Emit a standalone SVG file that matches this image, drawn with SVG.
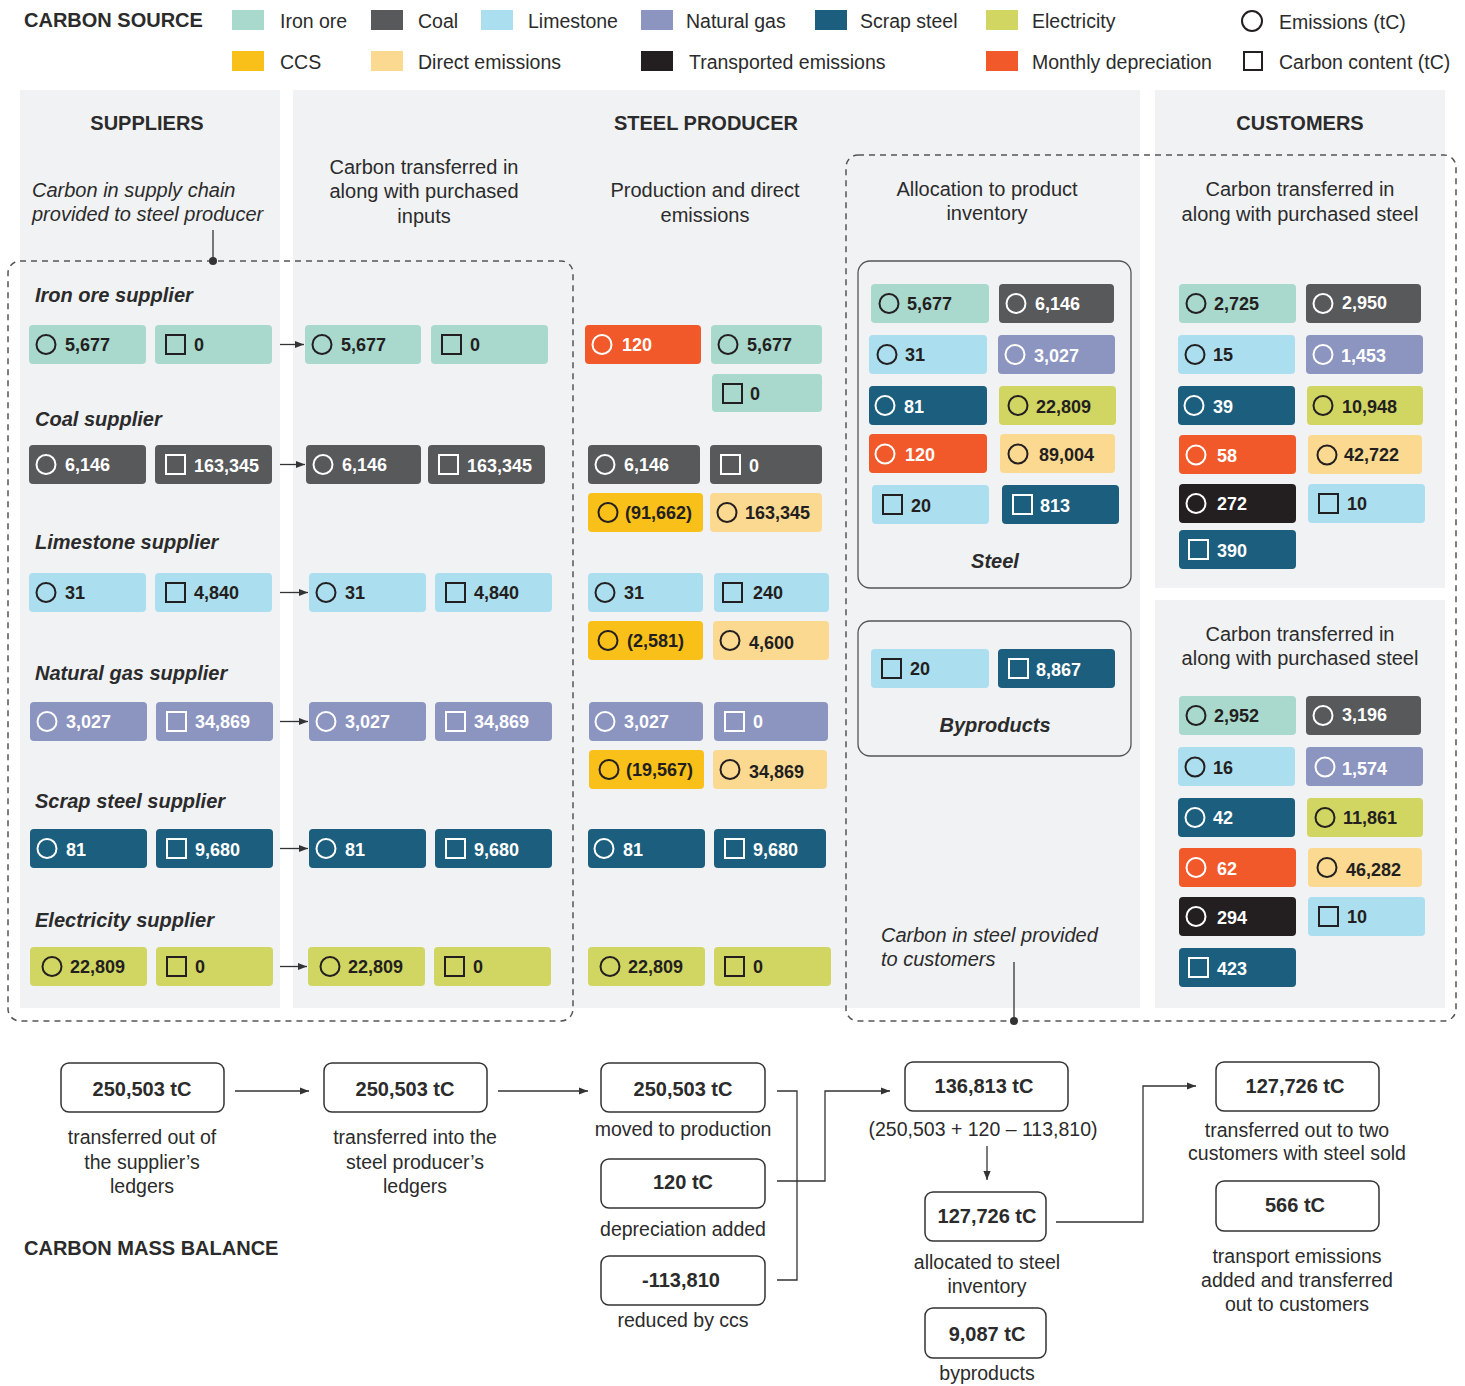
<svg xmlns="http://www.w3.org/2000/svg" width="1465" height="1386" viewBox="0 0 1465 1386">
<defs>
<style>
text{font-family:"Liberation Sans",Arial,sans-serif;fill:#2b2b2b}
.panel{fill:#f1f2f4}
.io{fill:#a9d8cd}.co{fill:#58595b}.li{fill:#abdeee}.ng{fill:#8c94c0}.sc{fill:#1b5e7d}.el{fill:#d1d561}
.cc{fill:#f8c018}.de{fill:#fbd991}.tr{fill:#231f20}.md{fill:#f1592a}
.leg{font-size:19.5px}
.h{font-size:20px;font-weight:bold}
.sub{font-size:20px;text-anchor:middle}
.it{font-size:20px;font-style:italic}
.lab{font-size:20px;font-weight:bold;font-style:italic}
.v{font-size:18px;font-weight:bold;fill:#231f20}
.vw{font-size:18px;font-weight:bold;fill:#fff}
.ic{fill:none;stroke:#231f20;stroke-width:2}
.icw{fill:none;stroke:#fff;stroke-width:2}
.dash{fill:none;stroke:#555;stroke-width:1.5;stroke-dasharray:6 5}
.frame{fill:none;stroke:#555;stroke-width:1.3}
.bb{fill:#fff;stroke:#333;stroke-width:1.5}
.bv{font-size:20px;font-weight:bold;text-anchor:middle}
.bl{font-size:19.5px;text-anchor:middle}
.ln{fill:none;stroke:#333;stroke-width:1.3}
</style>
<marker id="ah" viewBox="0 0 10 10" refX="10" refY="5" markerWidth="9" markerHeight="9" orient="auto" markerUnits="userSpaceOnUse"><path d="M0,1 L10,5 L0,9 z" fill="#333"/></marker>
</defs>
<rect width="1465" height="1386" fill="#fff"/>

<!-- Legend -->
<g id="legend">
<text x="24" y="27" class="h">CARBON SOURCE</text>
<rect x="232" y="10" width="32" height="20" class="io"/><text x="280" y="28" class="leg">Iron ore</text>
<rect x="371" y="10" width="32" height="20" class="co"/><text x="418" y="28" class="leg">Coal</text>
<rect x="481" y="10" width="32" height="20" class="li"/><text x="528" y="28" class="leg">Limestone</text>
<rect x="641" y="10" width="32" height="20" class="ng"/><text x="686" y="28" class="leg">Natural gas</text>
<rect x="815" y="10" width="32" height="20" class="sc"/><text x="860" y="28" class="leg">Scrap steel</text>
<rect x="986" y="10" width="32" height="20" class="el"/><text x="1032" y="28" class="leg">Electricity</text>
<circle cx="1252" cy="21" r="10" class="ic"/><text x="1279" y="29" class="leg">Emissions (tC)</text>
<rect x="232" y="51" width="32" height="20" class="cc"/><text x="280" y="69" class="leg">CCS</text>
<rect x="371" y="51" width="32" height="20" class="de"/><text x="418" y="69" class="leg">Direct emissions</text>
<rect x="641" y="51" width="32" height="20" class="tr"/><text x="689" y="69" class="leg">Transported emissions</text>
<rect x="986" y="51" width="32" height="20" class="md"/><text x="1032" y="69" class="leg">Monthly depreciation</text>
<rect x="1244" y="52" width="18" height="18" class="ic"/><text x="1279" y="69" class="leg">Carbon content (tC)</text>
</g>

<!-- Panels -->
<g id="panels">
<rect x="20" y="90" width="260" height="918" class="panel"/>
<rect x="293" y="90" width="847" height="918" class="panel"/>
<rect x="1155" y="90" width="290" height="498" class="panel"/>
<rect x="1155" y="600" width="290" height="408" class="panel"/>
<text x="147" y="130" class="h" text-anchor="middle">SUPPLIERS</text>
<text x="706" y="130" class="h" text-anchor="middle">STEEL PRODUCER</text>
<text x="1300" y="130" class="h" text-anchor="middle">CUSTOMERS</text>
<text x="32" y="197" class="it">Carbon in supply chain</text>
<text x="32" y="221" class="it">provided to steel producer</text>
<text x="424" y="174" class="sub">Carbon transferred in</text>
<text x="424" y="198" class="sub">along with purchased</text>
<text x="424" y="223" class="sub">inputs</text>
<text x="705" y="197" class="sub">Production and direct</text>
<text x="705" y="222" class="sub">emissions</text>
<text x="987" y="196" class="sub">Allocation to product</text>
<text x="987" y="220" class="sub">inventory</text>
<text x="1300" y="196" class="sub">Carbon transferred in</text>
<text x="1300" y="221" class="sub">along with purchased steel</text>
<text x="1300" y="641" class="sub">Carbon transferred in</text>
<text x="1300" y="665" class="sub">along with purchased steel</text>
</g>

<!-- Dashed boundaries -->
<g id="boundaries">
<rect x="8" y="261" width="565" height="760" rx="12" class="dash"/>
<line x1="213" y1="230" x2="213" y2="261" stroke="#333" stroke-width="1.3"/>
<circle cx="213" cy="261" r="4" fill="#333"/>
<rect x="846" y="155" width="610" height="866" rx="12" class="dash"/>
<line x1="1014" y1="962" x2="1014" y2="1021" stroke="#333" stroke-width="1.3"/>
<circle cx="1014" cy="1021" r="4" fill="#333"/>
<text x="881" y="942" class="it">Carbon in steel provided</text>
<text x="881" y="966" class="it">to customers</text>
</g>

<!-- Supplier labels -->
<g id="supplier-labels">
<text x="35" y="302" class="lab">Iron ore supplier</text>
<text x="35" y="426" class="lab">Coal supplier</text>
<text x="35" y="549" class="lab">Limestone supplier</text>
<text x="35" y="680" class="lab">Natural gas supplier</text>
<text x="35" y="808" class="lab">Scrap steel supplier</text>
<text x="35" y="927" class="lab">Electricity supplier</text>
</g>

<!-- Iron ore supplier -->
<g id="iron-supplier">
<rect x="29" y="325" width="117" height="39" rx="4" class="io"/><circle cx="46" cy="344.5" r="9.5" class="ic"/><text x="65" y="351" class="v">5,677</text>
<rect x="155" y="325" width="117" height="39" rx="4" class="io"/><rect x="166" y="335" width="19" height="19" class="ic"/><text x="194" y="351" class="v">0</text>
</g>
<g id="iron-producer-in">
<rect x="305" y="325" width="116" height="39" rx="4" class="io"/><circle cx="322" cy="344.5" r="9.5" class="ic"/><text x="341" y="351" class="v">5,677</text>
<rect x="431" y="325" width="117" height="39" rx="4" class="io"/><rect x="442" y="335" width="19" height="19" class="ic"/><text x="470" y="351" class="v">0</text>
</g>
<!-- Coal -->
<g id="coal-supplier">
<rect x="29" y="445" width="117" height="39" rx="4" class="co"/><circle cx="46" cy="464.5" r="9.5" class="icw"/><text x="65" y="471" class="vw">6,146</text>
<rect x="155" y="445" width="117" height="39" rx="4" class="co"/><rect x="166" y="455" width="19" height="19" class="icw"/><text x="194" y="472" class="vw">163,345</text>
</g>
<g id="coal-producer-in">
<rect x="306" y="445" width="115" height="39" rx="4" class="co"/><circle cx="323" cy="464.5" r="9.5" class="icw"/><text x="342" y="471" class="vw">6,146</text>
<rect x="428" y="445" width="117" height="39" rx="4" class="co"/><rect x="439" y="455" width="19" height="19" class="icw"/><text x="467" y="472" class="vw">163,345</text>
</g>
<!-- Limestone -->
<g id="limestone-supplier">
<rect x="29" y="573" width="117" height="39" rx="4" class="li"/><circle cx="46" cy="592.5" r="9.5" class="ic"/><text x="65" y="599" class="v">31</text>
<rect x="155" y="573" width="117" height="39" rx="4" class="li"/><rect x="166" y="583" width="19" height="19" class="ic"/><text x="194" y="599" class="v">4,840</text>
</g>
<g id="limestone-producer-in">
<rect x="309" y="573" width="117" height="39" rx="4" class="li"/><circle cx="326" cy="592.5" r="9.5" class="ic"/><text x="345" y="599" class="v">31</text>
<rect x="435" y="573" width="117" height="39" rx="4" class="li"/><rect x="446" y="583" width="19" height="19" class="ic"/><text x="474" y="599" class="v">4,840</text>
</g>
<!-- Natural gas -->
<g id="natgas-supplier">
<rect x="30" y="702" width="117" height="39" rx="4" class="ng"/><circle cx="47" cy="721.5" r="9.5" class="icw"/><text x="66" y="728" class="vw">3,027</text>
<rect x="156" y="702" width="117" height="39" rx="4" class="ng"/><rect x="167" y="712" width="19" height="19" class="icw"/><text x="195" y="728" class="vw">34,869</text>
</g>
<g id="natgas-producer-in">
<rect x="309" y="702" width="117" height="39" rx="4" class="ng"/><circle cx="326" cy="721.5" r="9.5" class="icw"/><text x="345" y="728" class="vw">3,027</text>
<rect x="435" y="702" width="117" height="39" rx="4" class="ng"/><rect x="446" y="712" width="19" height="19" class="icw"/><text x="474" y="728" class="vw">34,869</text>
</g>
<!-- Scrap steel -->
<g id="scrap-supplier">
<rect x="30" y="829" width="117" height="39" rx="4" class="sc"/><circle cx="47" cy="848.5" r="9.5" class="icw"/><text x="66" y="856" class="vw">81</text>
<rect x="156" y="829" width="117" height="39" rx="4" class="sc"/><rect x="167" y="839" width="19" height="19" class="icw"/><text x="195" y="856" class="vw">9,680</text>
</g>
<g id="scrap-producer-in">
<rect x="309" y="829" width="117" height="39" rx="4" class="sc"/><circle cx="326" cy="848.5" r="9.5" class="icw"/><text x="345" y="856" class="vw">81</text>
<rect x="435" y="829" width="117" height="39" rx="4" class="sc"/><rect x="446" y="839" width="19" height="19" class="icw"/><text x="474" y="856" class="vw">9,680</text>
</g>
<!-- Electricity -->
<g id="elec-supplier">
<rect x="30" y="947" width="117" height="39" rx="4" class="el"/><circle cx="52" cy="966.5" r="9.5" class="ic"/><text x="70" y="973" class="v">22,809</text>
<rect x="156" y="947" width="117" height="39" rx="4" class="el"/><rect x="167" y="957" width="19" height="19" class="ic"/><text x="195" y="973" class="v">0</text>
</g>
<g id="elec-producer-in">
<rect x="308" y="947" width="117" height="39" rx="4" class="el"/><circle cx="330" cy="966.5" r="9.5" class="ic"/><text x="348" y="973" class="v">22,809</text>
<rect x="434" y="947" width="117" height="39" rx="4" class="el"/><rect x="445" y="957" width="19" height="19" class="ic"/><text x="473" y="973" class="v">0</text>
</g>

<!-- Production and direct emissions -->
<g id="production">
<rect x="585" y="325" width="116" height="39" rx="4" class="md"/><circle cx="602" cy="344.5" r="9.5" class="icw"/><text x="622" y="351" class="vw">120</text>
<rect x="711" y="325" width="111" height="39" rx="4" class="io"/><circle cx="728" cy="344.5" r="9.5" class="ic"/><text x="747" y="351" class="v">5,677</text>
<rect x="712" y="374" width="110" height="38" rx="4" class="io"/><rect x="723" y="384" width="19" height="19" class="ic"/><text x="750" y="400" class="v">0</text>

<rect x="588" y="445" width="112" height="39" rx="4" class="co"/><circle cx="605" cy="464.5" r="9.5" class="icw"/><text x="624" y="471" class="vw">6,146</text>
<rect x="710" y="445" width="112" height="39" rx="4" class="co"/><rect x="721" y="455" width="19" height="19" class="icw"/><text x="749" y="472" class="vw">0</text>
<rect x="588" y="493" width="115" height="39" rx="4" class="cc"/><circle cx="608" cy="512.5" r="9.5" class="ic"/><text x="625" y="519" class="v">(91,662)</text>
<rect x="710" y="493" width="112" height="39" rx="4" class="de"/><circle cx="727" cy="512.5" r="9.5" class="ic"/><text x="745" y="519" class="v">163,345</text>

<rect x="588" y="573" width="115" height="39" rx="4" class="li"/><circle cx="605" cy="592.5" r="9.5" class="ic"/><text x="624" y="599" class="v">31</text>
<rect x="714" y="573" width="115" height="39" rx="4" class="li"/><rect x="723" y="583" width="19" height="19" class="ic"/><text x="753" y="599" class="v">240</text>
<rect x="588" y="621" width="115" height="39" rx="4" class="cc"/><circle cx="608" cy="640.5" r="9.5" class="ic"/><text x="627" y="647" class="v">(2,581)</text>
<rect x="713" y="621" width="116" height="39" rx="4" class="de"/><circle cx="730" cy="640.5" r="9.5" class="ic"/><text x="749" y="649" class="v">4,600</text>

<rect x="589" y="702" width="114" height="39" rx="4" class="ng"/><circle cx="605" cy="721.5" r="9.5" class="icw"/><text x="624" y="728" class="vw">3,027</text>
<rect x="714" y="702" width="114" height="39" rx="4" class="ng"/><rect x="725" y="712" width="19" height="19" class="icw"/><text x="753" y="728" class="vw">0</text>
<rect x="589" y="750" width="115" height="39" rx="4" class="cc"/><circle cx="609" cy="769.5" r="9.5" class="ic"/><text x="626" y="776" class="v">(19,567)</text>
<rect x="713" y="750" width="114" height="39" rx="4" class="de"/><circle cx="730" cy="769.5" r="9.5" class="ic"/><text x="749" y="778" class="v">34,869</text>

<rect x="588" y="829" width="117" height="39" rx="4" class="sc"/><circle cx="604" cy="848.5" r="9.5" class="icw"/><text x="623" y="856" class="vw">81</text>
<rect x="714" y="829" width="112" height="39" rx="4" class="sc"/><rect x="725" y="839" width="19" height="19" class="icw"/><text x="753" y="856" class="vw">9,680</text>

<rect x="588" y="947" width="117" height="39" rx="4" class="el"/><circle cx="610" cy="966.5" r="9.5" class="ic"/><text x="628" y="973" class="v">22,809</text>
<rect x="714" y="947" width="117" height="39" rx="4" class="el"/><rect x="725" y="957" width="19" height="19" class="ic"/><text x="753" y="973" class="v">0</text>
</g>

<!-- Allocation: Steel -->
<g id="alloc-steel">
<rect x="858" y="261" width="273" height="327" rx="12" class="frame"/>
<rect x="871" y="284" width="118" height="39" rx="4" class="io"/><circle cx="889" cy="303.5" r="9.5" class="ic"/><text x="907" y="310" class="v">5,677</text>
<rect x="999" y="284" width="115" height="39" rx="4" class="co"/><circle cx="1016" cy="303.5" r="9.5" class="icw"/><text x="1035" y="310" class="vw">6,146</text>
<rect x="869" y="335" width="118" height="39" rx="4" class="li"/><circle cx="887" cy="354.5" r="9.5" class="ic"/><text x="905" y="361" class="v">31</text>
<rect x="998" y="335" width="117" height="39" rx="4" class="ng"/><circle cx="1015" cy="354.5" r="9.5" class="icw"/><text x="1034" y="362" class="vw">3,027</text>
<rect x="869" y="386" width="118" height="39" rx="4" class="sc"/><circle cx="885" cy="405.5" r="9.5" class="icw"/><text x="904" y="413" class="vw">81</text>
<rect x="999" y="386" width="117" height="39" rx="4" class="el"/><circle cx="1018" cy="405.5" r="9.5" class="ic"/><text x="1036" y="413" class="v">22,809</text>
<rect x="869" y="434" width="118" height="39" rx="4" class="md"/><circle cx="885" cy="454" r="9.5" class="icw"/><text x="905" y="461" class="vw">120</text>
<rect x="1000" y="434" width="115" height="39" rx="4" class="de"/><circle cx="1018" cy="454" r="9.5" class="ic"/><text x="1039" y="461" class="v">89,004</text>
<rect x="872" y="485" width="117" height="39" rx="4" class="li"/><rect x="883" y="495" width="19" height="19" class="ic"/><text x="911" y="512" class="v">20</text>
<rect x="1002" y="485" width="117" height="39" rx="4" class="sc"/><rect x="1013" y="495" width="19" height="19" class="icw"/><text x="1040" y="512" class="vw">813</text>
<text x="995" y="568" class="lab" text-anchor="middle">Steel</text>
</g>

<!-- Allocation: Byproducts -->
<g id="alloc-byproducts">
<rect x="858" y="621" width="273" height="135" rx="12" class="frame"/>
<rect x="871" y="649" width="118" height="39" rx="4" class="li"/><rect x="882" y="659" width="19" height="19" class="ic"/><text x="910" y="675" class="v">20</text>
<rect x="998" y="649" width="117" height="39" rx="4" class="sc"/><rect x="1009" y="659" width="19" height="19" class="icw"/><text x="1036" y="676" class="vw">8,867</text>
<text x="995" y="732" class="lab" text-anchor="middle">Byproducts</text>
</g>

<!-- Customer 1 -->
<g id="customer-1">
<rect x="1179" y="284" width="117" height="39" rx="4" class="io"/><circle cx="1196" cy="303.5" r="9.5" class="ic"/><text x="1214" y="310" class="v">2,725</text>
<rect x="1306" y="284" width="115" height="39" rx="4" class="co"/><circle cx="1323" cy="303.5" r="9.5" class="icw"/><text x="1342" y="309" class="vw">2,950</text>
<rect x="1178" y="335" width="117" height="39" rx="4" class="li"/><circle cx="1195" cy="354.5" r="9.5" class="ic"/><text x="1213" y="361" class="v">15</text>
<rect x="1306" y="335" width="117" height="39" rx="4" class="ng"/><circle cx="1323" cy="354.5" r="9.5" class="icw"/><text x="1341" y="362" class="vw">1,453</text>
<rect x="1178" y="386" width="117" height="39" rx="4" class="sc"/><circle cx="1194" cy="405.5" r="9.5" class="icw"/><text x="1213" y="413" class="vw">39</text>
<rect x="1307" y="386" width="116" height="39" rx="4" class="el"/><circle cx="1323" cy="405.5" r="9.5" class="ic"/><text x="1342" y="413" class="v">10,948</text>
<rect x="1179" y="435" width="117" height="39" rx="4" class="md"/><circle cx="1196" cy="455" r="9.5" class="icw"/><text x="1217" y="462" class="vw">58</text>
<rect x="1308" y="435" width="114" height="39" rx="4" class="de"/><circle cx="1327" cy="455" r="9.5" class="ic"/><text x="1344" y="461" class="v">42,722</text>
<rect x="1179" y="484" width="117" height="39" rx="4" class="tr"/><circle cx="1196" cy="503.5" r="9.5" class="icw"/><text x="1217" y="510" class="vw">272</text>
<rect x="1308" y="484" width="117" height="39" rx="4" class="li"/><rect x="1319" y="494" width="19" height="19" class="ic"/><text x="1347" y="510" class="v">10</text>
<rect x="1179" y="530" width="117" height="39" rx="4" class="sc"/><rect x="1189" y="540" width="19" height="19" class="icw"/><text x="1217" y="557" class="vw">390</text>
</g>

<!-- Customer 2 -->
<g id="customer-2">
<rect x="1179" y="696" width="117" height="39" rx="4" class="io"/><circle cx="1196" cy="715.5" r="9.5" class="ic"/><text x="1214" y="722" class="v">2,952</text>
<rect x="1306" y="696" width="115" height="39" rx="4" class="co"/><circle cx="1323" cy="715.5" r="9.5" class="icw"/><text x="1342" y="721" class="vw">3,196</text>
<rect x="1178" y="747" width="117" height="39" rx="4" class="li"/><circle cx="1195" cy="767" r="9.5" class="ic"/><text x="1213" y="774" class="v">16</text>
<rect x="1306" y="747" width="117" height="39" rx="4" class="ng"/><circle cx="1325" cy="767" r="9.5" class="icw"/><text x="1342" y="775" class="vw">1,574</text>
<rect x="1178" y="798" width="117" height="39" rx="4" class="sc"/><circle cx="1195" cy="817.5" r="9.5" class="icw"/><text x="1213" y="824" class="vw">42</text>
<rect x="1307" y="798" width="116" height="39" rx="4" class="el"/><circle cx="1325" cy="817.5" r="9.5" class="ic"/><text x="1343" y="824" class="v">11,861</text>
<rect x="1179" y="848" width="117" height="39" rx="4" class="md"/><circle cx="1196" cy="867.5" r="9.5" class="icw"/><text x="1217" y="875" class="vw">62</text>
<rect x="1308" y="848" width="114" height="39" rx="4" class="de"/><circle cx="1327" cy="867.5" r="9.5" class="ic"/><text x="1346" y="876" class="v">46,282</text>
<rect x="1179" y="897" width="117" height="39" rx="4" class="tr"/><circle cx="1196" cy="916.5" r="9.5" class="icw"/><text x="1217" y="924" class="vw">294</text>
<rect x="1308" y="897" width="117" height="39" rx="4" class="li"/><rect x="1319" y="907" width="19" height="19" class="ic"/><text x="1347" y="923" class="v">10</text>
<rect x="1179" y="948" width="117" height="39" rx="4" class="sc"/><rect x="1189" y="958" width="19" height="19" class="icw"/><text x="1217" y="975" class="vw">423</text>
</g>

<!-- Mass balance nodes -->
<g id="mb-out-supplier">
<rect x="61" y="1063" width="163" height="49" rx="8" class="bb"/><text x="142" y="1096" class="bv">250,503 tC</text>
<text x="142" y="1144" class="bl">transferred out of</text><text x="142" y="1169" class="bl">the supplier’s</text><text x="142" y="1193" class="bl">ledgers</text>
</g>
<g id="mb-into-producer">
<rect x="324" y="1063" width="163" height="49" rx="8" class="bb"/><text x="405" y="1096" class="bv">250,503 tC</text>
<text x="415" y="1144" class="bl">transferred into the</text><text x="415" y="1169" class="bl">steel producer’s</text><text x="415" y="1193" class="bl">ledgers</text>
</g>
<g id="mb-production">
<rect x="601" y="1063" width="164" height="49" rx="8" class="bb"/><text x="683" y="1096" class="bv">250,503 tC</text>
<text x="683" y="1136" class="bl">moved to production</text>
</g>
<g id="mb-depreciation">
<rect x="601" y="1159" width="164" height="49" rx="8" class="bb"/><text x="683" y="1189" class="bv">120 tC</text>
<text x="683" y="1236" class="bl">depreciation added</text>
</g>
<g id="mb-ccs">
<rect x="601" y="1256" width="164" height="49" rx="8" class="bb"/><text x="681" y="1287" class="bv">-113,810</text>
<text x="683" y="1327" class="bl">reduced by ccs</text>
</g>
<g id="mb-total">
<rect x="905" y="1062" width="163" height="49" rx="8" class="bb"/><text x="984" y="1093" class="bv">136,813 tC</text>
<text x="983" y="1136" class="bl">(250,503 + 120 – 113,810)</text>
</g>
<g id="mb-steel">
<rect x="925" y="1192" width="121" height="49" rx="8" class="bb"/><text x="987" y="1223" class="bv">127,726 tC</text>
<text x="987" y="1269" class="bl">allocated to steel</text><text x="987" y="1293" class="bl">inventory</text>
</g>
<g id="mb-byproducts">
<rect x="925" y="1308" width="121" height="50" rx="8" class="bb"/><text x="987" y="1341" class="bv">9,087 tC</text>
<text x="987" y="1380" class="bl">byproducts</text>
</g>
<g id="mb-customers">
<rect x="1216" y="1062" width="163" height="49" rx="8" class="bb"/><text x="1295" y="1093" class="bv">127,726 tC</text>
<text x="1297" y="1137" class="bl">transferred out to two</text><text x="1297" y="1160" class="bl">customers with steel sold</text>
</g>
<g id="mb-transport">
<rect x="1216" y="1181" width="163" height="50" rx="8" class="bb"/><text x="1295" y="1212" class="bv">566 tC</text>
<text x="1297" y="1263" class="bl">transport emissions</text><text x="1297" y="1287" class="bl">added and transferred</text><text x="1297" y="1311" class="bl">out to customers</text>
</g>
<text x="24" y="1255" class="h">CARBON MASS BALANCE</text>

<!-- Connectors -->
<g id="connectors">
<line x1="280" y1="344.5" x2="304" y2="344.5" class="ln" marker-end="url(#ah)"/>
<line x1="280" y1="464.5" x2="305" y2="464.5" class="ln" marker-end="url(#ah)"/>
<line x1="280" y1="592.5" x2="308" y2="592.5" class="ln" marker-end="url(#ah)"/>
<line x1="280" y1="721.5" x2="308" y2="721.5" class="ln" marker-end="url(#ah)"/>
<line x1="280" y1="848.5" x2="308" y2="848.5" class="ln" marker-end="url(#ah)"/>
<line x1="280" y1="966.5" x2="307" y2="966.5" class="ln" marker-end="url(#ah)"/>
<line x1="235" y1="1091" x2="309" y2="1091" class="ln" marker-end="url(#ah)"/>
<line x1="498" y1="1091" x2="588" y2="1091" class="ln" marker-end="url(#ah)"/>
<polyline points="777,1091 797,1091 797,1280 777,1280" class="ln"/>
<polyline points="777,1181 825,1181 825,1091 890,1091" class="ln" marker-end="url(#ah)"/>
<line x1="987" y1="1146" x2="987" y2="1180" class="ln" marker-end="url(#ah)"/>
<polyline points="1056,1222 1143,1222 1143,1086 1196,1086" class="ln" marker-end="url(#ah)"/>
</g>
</svg>
